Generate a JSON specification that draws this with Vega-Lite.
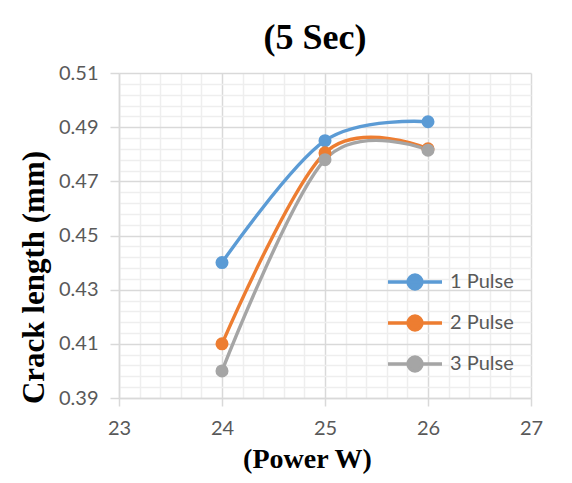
{
  "$schema": "https://vega.github.io/schema/vega-lite/v6.json",
  "width": 412,
  "height": 325,
  "autosize": {"type": "none"},
  "padding": {"left": 119, "top": 73, "right": 41, "bottom": 85},
  "background": "white",
  "title": {"text": "(5 Sec)", "font": "Liberation Serif", "fontSize": 36, "fontWeight": "bold", "color": "black", "anchor": "middle", "dx": -10, "offset": 6},
  "data": {"values": [
    {"power": 24, "length": 0.44, "series": "1 Pulse"},
    {"power": 25, "length": 0.485, "series": "1 Pulse"},
    {"power": 26, "length": 0.492, "series": "1 Pulse"},
    {"power": 24, "length": 0.41, "series": "2 Pulse"},
    {"power": 25, "length": 0.4805, "series": "2 Pulse"},
    {"power": 26, "length": 0.482, "series": "2 Pulse"},
    {"power": 24, "length": 0.40, "series": "3 Pulse"},
    {"power": 25, "length": 0.478, "series": "3 Pulse"},
    {"power": 26, "length": 0.4815, "series": "3 Pulse"}
  ]},
  "encoding": {
    "x": {
      "field": "power", "type": "quantitative",
      "scale": {"domain": [23, 27], "nice": false, "zero": false},
      "axis": {
        "title": "(Power W)",
        "titleFont": "Liberation Serif", "titleFontSize": 28, "titleFontWeight": "bold", "titleColor": "black",
        "titleX": 188, "titleY": 69, "titleAlign": "center", "titleBaseline": "alphabetic",
        "values": [23, 23.2, 23.4, 23.6, 23.8, 24, 24.2, 24.4, 24.6, 24.8, 25, 25.2, 25.4, 25.6, 25.8, 26, 26.2, 26.4, 26.6, 26.8, 27],
        "labelExpr": "abs(datum.value - round(datum.value)) < 0.01 ? format(datum.value, '.0f') : ''",
        "labelOverlap": false, "labelFlush": false,
        "labelPadding": 12,
        "tickSize": 8,
        "gridColor": {"condition": {"test": "abs(datum.value - round(datum.value)) < 0.01", "value": "#D9D9D9"}, "value": "#EEEEEE"},
        "tickOpacity": {"condition": {"test": "abs(datum.value - round(datum.value)) < 0.01", "value": 1}, "value": 0}
      }
    },
    "y": {
      "field": "length", "type": "quantitative",
      "scale": {"domain": [0.39, 0.51], "nice": false, "zero": false},
      "axis": {
        "title": "Crack length (mm)",
        "titleFont": "Liberation Serif", "titleFontSize": 31, "titleFontWeight": "bold", "titleColor": "black",
        "titleX": -76, "titleY": 204, "titleAlign": "center", "titleBaseline": "alphabetic", "titleAngle": -90,
        "values": [0.39, 0.394, 0.398, 0.402, 0.406, 0.41, 0.414, 0.418, 0.422, 0.426, 0.43, 0.434, 0.438, 0.442, 0.446, 0.45, 0.454, 0.458, 0.462, 0.466, 0.47, 0.474, 0.478, 0.482, 0.486, 0.49, 0.494, 0.498, 0.502, 0.506, 0.51],
        "labelExpr": "abs((datum.value-0.39)*50 - round((datum.value-0.39)*50)) < 0.01 ? format(datum.value, '.2f') : ''",
        "labelOverlap": false, "labelFlush": false,
        "labelPadding": 12,
        "tickSize": 9,
        "gridColor": {"condition": {"test": "abs((datum.value-0.39)*50 - round((datum.value-0.39)*50)) < 0.01", "value": "#D9D9D9"}, "value": "#EEEEEE"},
        "tickOpacity": {"condition": {"test": "abs((datum.value-0.39)*50 - round((datum.value-0.39)*50)) < 0.01", "value": 1}, "value": 0}
      }
    },
    "color": {
      "field": "series", "type": "nominal",
      "scale": {"domain": ["1 Pulse", "2 Pulse", "3 Pulse"], "range": ["#5B9BD5", "#ED7D31", "#A5A5A5"]},
      "legend": {
        "orient": "none", "legendX": 284, "legendY": 197, "title": null, "padding": 0,
        "symbolType": "M-2.7,0H2.7M0.7,0A0.7,0.7,0,1,1,-0.7,0A0.7,0.7,0,1,1,0.7,0Z",
        "symbolSize": 400, "symbolStrokeWidth": 3.3,
        "labelFont": "Lato", "labelFontSize": 20, "labelColor": "#595959", "labelOffset": 23,
        "rowPadding": 13,
        "encode": {"symbols": {"update": {"fill": {"scale": "color", "field": "value"}, "stroke": {"scale": "color", "field": "value"}, "opacity": {"value": 1}, "fillOpacity": {"value": 1}}}}
      }
    }
  },
  "layer": [
    {"mark": {"type": "line", "interpolate": "cardinal", "tension": 0, "strokeWidth": 3.4}},
    {"mark": {"type": "point", "filled": true, "size": 170, "opacity": 1}}
  ],
  "config": {
    "view": {"stroke": null},
    "axis": {
      "labelFont": "Lato", "labelFontSize": 20, "labelColor": "#595959",
      "domainColor": "#D9D9D9", "domainWidth": 1.5,
      "tickColor": "#D9D9D9", "tickWidth": 1.5,
      "gridWidth": 1.5
    }
  }
}
